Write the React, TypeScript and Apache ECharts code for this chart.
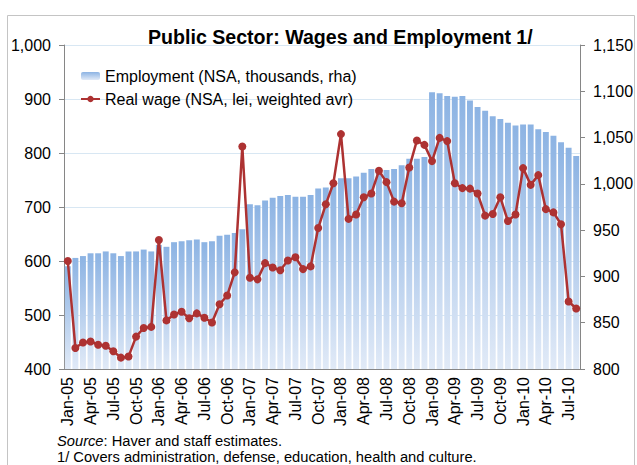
import React, { useEffect, useRef } from "react";
import * as echarts from "echarts";

const categories = [
  "Jan-05","Feb-05","Mar-05","Apr-05","May-05","Jun-05","Jul-05","Aug-05","Sep-05","Oct-05","Nov-05","Dec-05",
  "Jan-06","Feb-06","Mar-06","Apr-06","May-06","Jun-06","Jul-06","Aug-06","Sep-06","Oct-06","Nov-06","Dec-06",
  "Jan-07","Feb-07","Mar-07","Apr-07","May-07","Jun-07","Jul-07","Aug-07","Sep-07","Oct-07","Nov-07","Dec-07",
  "Jan-08","Feb-08","Mar-08","Apr-08","May-08","Jun-08","Jul-08","Aug-08","Sep-08","Oct-08","Nov-08","Dec-08",
  "Jan-09","Feb-09","Mar-09","Apr-09","May-09","Jun-09","Jul-09","Aug-09","Sep-09","Oct-09","Nov-09","Dec-09",
  "Jan-10","Feb-10","Mar-10","Apr-10","May-10","Jun-10","Jul-10","Aug-10",
];

// Employment (NSA, thousands) - right axis
const employment = [
  911, 920, 922, 925, 925, 927, 925, 922, 927, 927, 929, 927,
  934, 932, 937, 938, 939, 940, 937, 938, 944, 945, 947, 951,
  978, 977, 982, 985, 987, 988, 986, 986, 988, 995, 996, 1002,
  1006, 1006, 1008, 1012, 1016, 1017, 1015, 1016, 1020, 1027, 1027, 1029,
  1099, 1098, 1095, 1094, 1095, 1090, 1083, 1079, 1073, 1070, 1066, 1063,
  1064, 1064, 1059, 1056, 1052, 1045, 1039, 1030,
];

// Real wage (NSA, lei, weighted avr) - left axis
const realWage = [
  600, 439, 449, 451, 445, 443, 433, 421, 423, 460, 476, 478,
  639, 490, 501, 506, 494, 503, 495, 486, 520, 536, 579, 812,
  569, 566, 596, 588, 583, 601, 607, 585, 590, 661, 705, 744,
  835, 678, 686, 718, 725, 767, 746, 710, 707, 773, 823, 815,
  785, 828, 822, 744, 735, 734, 725, 684, 687, 718, 674, 686,
  772, 741, 759, 696, 690, 668, 525, 512,
];

const leftMin = 400;
const leftMax = 1000;
const leftStep = 100;
const rightMin = 800;
const rightMax = 1150;
const rightStep = 50;

const titleText = "Public Sector: Wages and Employment 1/";
const empName = "Employment (NSA, thousands, rha)";
const wageName = "Real wage (NSA, lei, weighted avr)";
const sourceLine = "{i|Source}: Haver and staff estimates.";
const noteLine = "1/ Covers administration, defense, education, health and culture.";

export default function App() {
  const ref = useRef<HTMLDivElement>(null);
  useEffect(() => {
    if (!ref.current) return;
    const chart = echarts.init(ref.current, null, { renderer: "svg" });
    const fmt = (v: number) => v.toLocaleString("en-US");
    const axisGray = "#868686";
    const red = "#ad3232";
    const barGrad = new echarts.graphic.LinearGradient(0, 0, 0, 1, [
      { offset: 0, color: "#8cb3e3" },
      { offset: 1, color: "#e1eaf7" },
    ]);
    const font = "'Liberation Sans', Arial, sans-serif";
    chart.setOption({
      animation: false,
      backgroundColor: "#ffffff",
      textStyle: { fontFamily: font },
      title: {
        text: titleText,
        left: 148,
        top: 27,
        padding: 0,
        textStyle: { fontSize: 19.6, fontWeight: "bold", color: "#000", fontFamily: font },
      },
      legend: {
        orient: "vertical",
        left: 80,
        top: 67,
        padding: 0,
        itemWidth: 19,
        itemHeight: 8,
        itemGap: 5,
        textStyle: { fontSize: 16, color: "#000", lineHeight: 18, fontFamily: font },
        data: [empName, wageName],
      },
      grid: { left: 64, right: 57, top: 45, bottom: 96, containLabel: false },
      xAxis: {
        type: "category",
        data: categories,
        boundaryGap: true,
        axisLine: { lineStyle: { color: axisGray, width: 1 } },
        axisTick: { interval: 2, length: 5, lineStyle: { color: axisGray } },
        axisLabel: { interval: 2, rotate: 90, fontSize: 16, color: "#000", margin: 8, fontFamily: font },
        splitLine: { show: false },
      },
      yAxis: [
        {
          type: "value",
          min: leftMin,
          max: leftMax,
          interval: leftStep,
          position: "left",
          axisLine: { show: true, lineStyle: { color: axisGray } },
          axisTick: { show: true, length: 5, lineStyle: { color: axisGray } },
          axisLabel: { formatter: fmt, fontSize: 16, color: "#000", margin: 13, fontFamily: font },
          splitLine: { show: true, lineStyle: { color: "#d8e7f3", width: 1 } },
        },
        {
          type: "value",
          min: rightMin,
          max: rightMax,
          interval: rightStep,
          position: "right",
          axisLine: { show: true, lineStyle: { color: axisGray } },
          axisTick: { show: true, length: 5, lineStyle: { color: axisGray } },
          axisLabel: { formatter: fmt, fontSize: 16, color: "#000", margin: 13, fontFamily: font },
          splitLine: { show: false },
        },
      ],
      series: [
        {
          name: empName,
          type: "bar",
          yAxisIndex: 1,
          data: employment,
          barCategoryGap: "22%",
          clip: true,
          itemStyle: { color: barGrad },
        },
        {
          name: wageName,
          type: "line",
          yAxisIndex: 0,
          data: realWage,
          symbol: "circle",
          symbolSize: 8,
          showSymbol: true,
          showAllSymbol: true,
          lineStyle: { width: 2.5, color: red },
          itemStyle: { color: red },
          z: 3,
        },
      ],
      graphic: [
        {
          type: "rect",
          silent: true,
          shape: { x: 7.5, y: 15.5, width: 627, height: 460 },
          style: { fill: "none", stroke: "#c4c4c4", lineWidth: 1 },
        },
        {
          type: "text",
          left: 57,
          top: 433,
          style: {
            text: sourceLine,
            fontSize: 14.7,
            fontFamily: font,
            fill: "#000",
            rich: { i: { fontStyle: "italic", fontSize: 14.7, fontFamily: font } },
          },
        },
        {
          type: "text",
          left: 57,
          top: 449,
          style: { text: noteLine, fontSize: 14.7, fontFamily: font, fill: "#000" },
        },
      ],
    });
    return () => chart.dispose();
  }, []);
  return <div ref={ref} style={{ position: "fixed", left: 0, top: 0, width: 637, height: 465 }} />;
}
